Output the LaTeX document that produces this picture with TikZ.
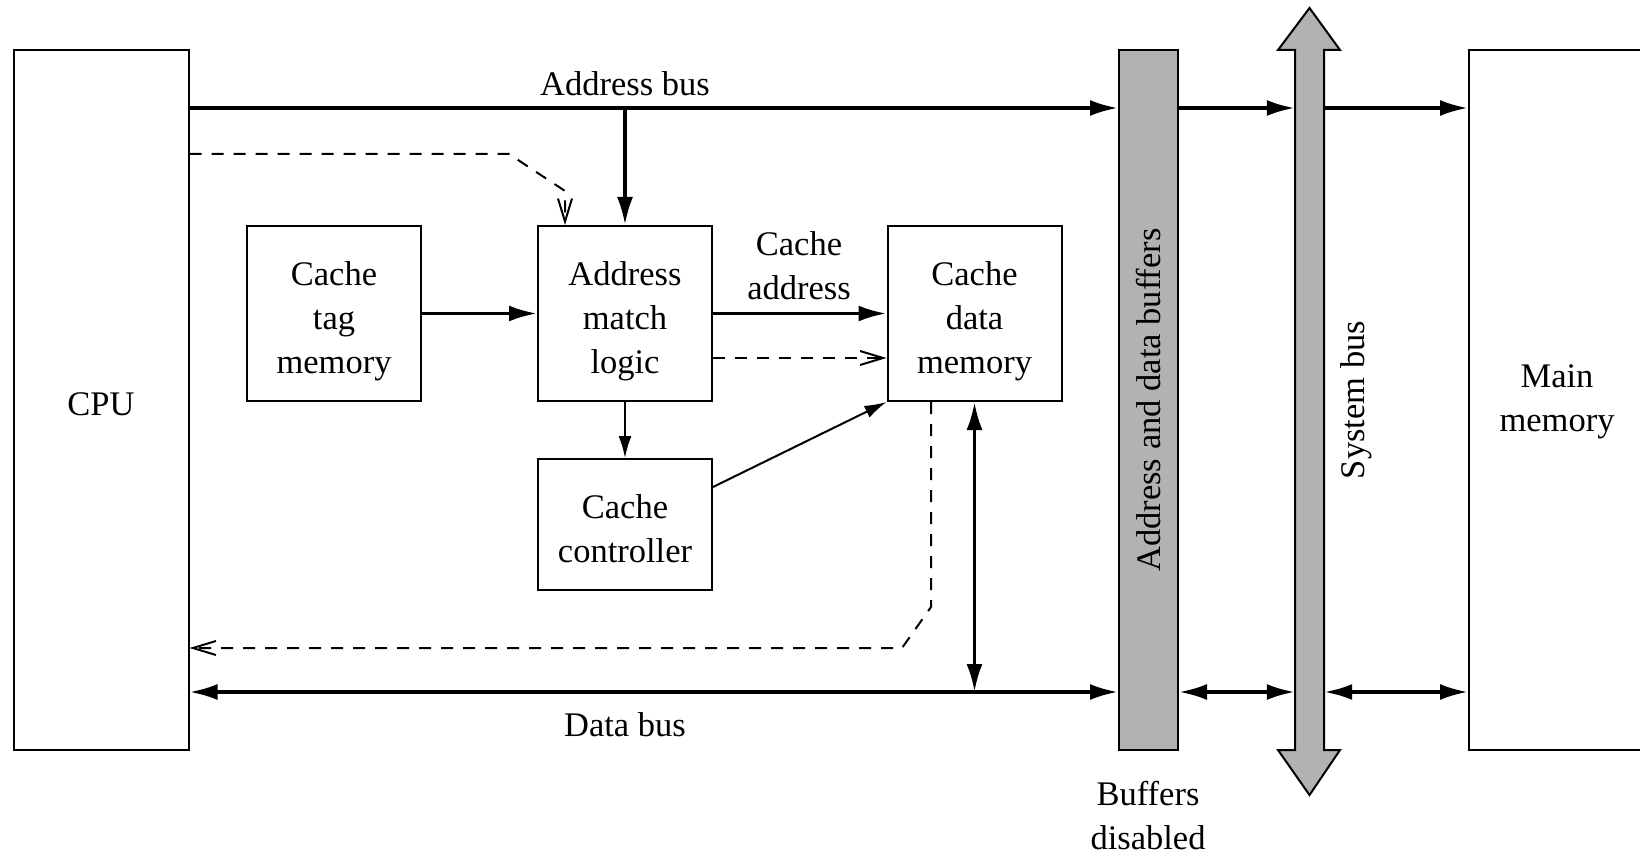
\documentclass[tikz,border=0pt]{standalone}
\usepackage{fontspec}
\setmainfont{Liberation Serif}
\usetikzlibrary{arrows.meta}
\definecolor{busgray}{gray}{0.70}
\begin{document}
\begin{tikzpicture}[x=1pt,y=-1pt,
  font=\fontsize{34.5}{44}\selectfont,
  box/.style={draw,line width=2pt,align=center,inner sep=0pt},
  txt/.style={align=center,inner sep=0pt},
  thk/.style={line width=3.5pt},
  thn/.style={line width=2pt},
  dsh/.style={line width=2pt,dash pattern=on 12pt off 10pt,-{Straight Barb[length=23pt,width=14pt]}},
  tipA/.tip={Latex[length=28pt,width=16pt]},
  tipB/.tip={Latex[length=22pt,width=13pt]}]
\useasboundingbox (0,0) rectangle (1640,858);
% big blocks
\node[box,minimum width=175pt,minimum height=700pt] (cpu) at (101,400) {};
\node[txt] (cput) at ([yshift=-4pt]cpu.center) {CPU};
\node[box,fill=busgray,minimum width=59pt,minimum height=700pt] (buf) at (1148.5,400) {};
\node[rotate=90] (bufl) at (buf.center) {Address and data buffers};
\draw[line width=2pt,fill=busgray] (1295,50) -- (1278,50) -- (1309.5,8) -- (1340,50) -- (1324,50) -- (1324,750) -- (1340,750) -- (1309.5,795) -- (1278,750) -- (1295,750) -- cycle;
\node[minimum width=29pt,minimum height=700pt,inner sep=0pt] (sys) at (1309.5,400) {};
\node[rotate=90] (sysl) at (1356,400) {System bus};
\node[box,minimum width=176pt,minimum height=700pt] (mem) at (1557,400) {};
\node[txt] (memt) at ([yshift=-2pt]mem.center) {Main\\memory};
% inner blocks
\node[box,minimum width=174pt,minimum height=175pt] (tag) at (334,313.5) {};
\node[txt] (tagt) at ([yshift=-8pt]tag.center) {Cache\\tag\\memory};
\node[box,minimum width=174pt,minimum height=175pt] (match) at (625,313.5) {};
\node[txt] (matcht) at ([yshift=-8pt]match.center) {Address\\match\\logic};
\node[box,minimum width=174pt,minimum height=175pt] (data) at (974.5,313.5) {};
\node[txt] (datat) at ([yshift=-8pt]data.center) {Cache\\data\\memory};
\node[box,minimum width=174pt,minimum height=131pt] (ctrl) at (625,524.5) {};
\node[txt] (ctrlt) at ([yshift=-4pt]ctrl.center) {Cache\\controller};
% labels
\node (abl) at (625,84) {Address bus};
\node (dbl) at (625,725) {Data bus};
\node[align=center] (cal) at (799,266) {Cache\\address};
\node[align=center] (bd) at (1148,816) {Buffers\\disabled};
% helper coordinates
\coordinate (ab) at (0,108);
\coordinate (db) at (0,692);
\coordinate (dx) at (565,0);
\coordinate (dd) at (931,0);
\coordinate (dl) at (0,358);
\coordinate (cr) at (0,487);
% address bus
\draw[thk,-tipA] (cpu.east |- ab) -- (buf.west |- ab);
\draw[thk,-tipA] (buf.east |- ab) -- (sys.west |- ab);
\draw[thk,-tipA] (sys.east |- ab) -- (mem.west |- ab);
\draw[thk,-tipA] (match.north |- ab) -- (match.north);
% data bus
\draw[thk,tipA-tipA] (cpu.east |- db) -- (buf.west |- db);
\draw[thk,tipA-tipA] (buf.east |- db) -- (sys.west |- db);
\draw[thk,tipA-tipA] (sys.east |- db) -- (mem.west |- db);
\draw[thk,tipA-tipA] (data.south) -- (data.south |- db);
% internal
\draw[thk,-tipA] (tag.east) -- (match.west);
\draw[thk,-tipA] (match.east) -- (data.west);
\draw[thn,-tipB] (match.south) -- (ctrl.north);
\draw[thn,-tipB] (ctrl.east |- cr) -- (data.south west);
% dashed
\draw[dsh] (match.east |- dl) -- (data.west |- dl);
\draw[dsh] (cpu.east |- 0,154) -- (509,154) -- (565,191) -- (match.north -| dx);
\draw[dsh] (data.south -| dd) -- (931,607) -- (902,648) -- (cpu.east |- 0,648);
\end{tikzpicture}
\end{document}
